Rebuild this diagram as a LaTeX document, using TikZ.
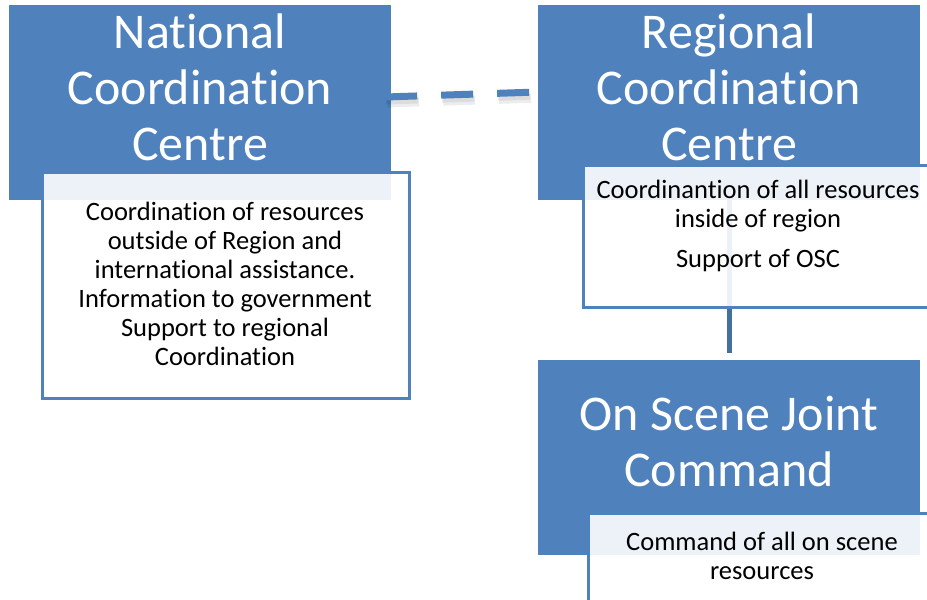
\documentclass[tikz,border=0pt]{standalone}
\usepackage{fontspec}
\setmainfont{Carlito}
\newcommand{\tisplit}{t\kern0pt i}
\definecolor{boxblue}{HTML}{4F81BD}
\definecolor{linkblue}{HTML}{41719C}
\tikzset{
  centrebox/.style={fill=boxblue, draw=none, minimum width=382pt, minimum height=195pt, inner sep=0pt},
  centretitle/.style={text=white, align=center, font=\fontsize{50}{56}\selectfont, inner sep=0pt},
  taskbox/.style={fill=white, fill opacity=0.9, draw=boxblue, line width=3pt, draw opacity=1, inner sep=0pt},
  tasktext/.style={align=center, font=\fontsize{26.5}{29}\selectfont, inner sep=0pt},
  dashlink/.style={line width=7pt, boxblue, dash pattern=on 32pt off 24pt},
}
\begin{document}
\begin{tikzpicture}[x=1pt, y=-1pt]
\useasboundingbox (0,0) rectangle (927,600);
\clip (0,0) rectangle (927,600);
% blue centre boxes
\node[centrebox] (ncc) at (200,102.5) {};
\node[centrebox] (rcc) at (729,102.5) {};
\node[centrebox] (osc) at (729,457.5) {};
% link between regional and on scene
\draw[linkblue, line width=5pt, shorten >=7pt] (rcc.south) -- (osc.north);
% task boxes
\node[taskbox, minimum width=367pt, minimum height=226pt] (nccd) at (225.5,285) {};
\node[taskbox, minimum width=350pt, minimum height=142pt] (rccd) at (758,236) {};
\node[taskbox, minimum width=348pt, minimum height=90pt] (oscd) at (762,558) {};
% titles
\node[centretitle] (ncc-title) at (200,87) {Na\tisplit onal\\Coordina\tisplit on\\Centre};
\node[centretitle] (rcc-title) at (729,87) {Regional\\Coordina\tisplit on\\Centre};
\node[centretitle] (osc-title) at (729,441) {On Scene Joint\\Command};
% task texts
\node[tasktext] (nccd-text) at (225,284) {Coordina\tisplit on of resources\\outside of Region and\\interna\tisplit onal assistance.\\Informa\tisplit on to government\\Support to regional\\Coordina\tisplit on};
\node[tasktext] (rccd-text) at (758,226) {Coordinan\tisplit on of all resources\\inside of region\\[11pt]Support of OSC};
\node[tasktext] (oscd-text) at (762,556) {Command of all on scene\\resources};
% dashed link national -- regional
\coordinate (dashA) at ([xshift=-6pt,yshift=5.5pt]ncc.east);
\coordinate (dashB) at ([yshift=10.5pt]rcc.west);
\draw[dashlink, black, opacity=0.07, line width=9pt, transform canvas={xshift=2pt, yshift=-6pt}] (dashA) -- (dashB);
\draw[dashlink, black, opacity=0.07, transform canvas={xshift=1pt, yshift=-4pt}] (dashA) -- (dashB);
\draw[dashlink] (dashA) -- (dashB);
\end{tikzpicture}
\end{document}
